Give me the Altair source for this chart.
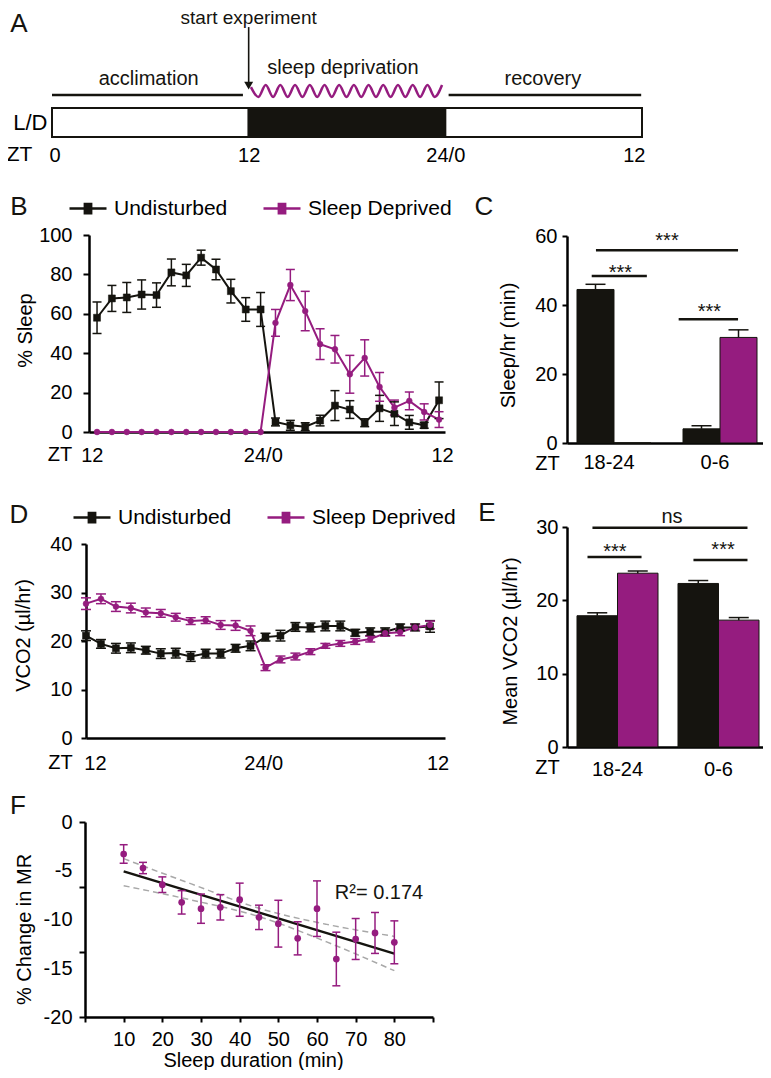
import altair as alt
import pandas as pd

# ---------------- canvas ----------------
W, H = 755, 1062


def P(v):
    """page pixel -> chart pixel (page has an 8px margin)"""
    return v - 8


BLACK = "#15140f"
MAG = "#951c7f"
GREY = "#a8a8a8"
FONT = "Liberation Sans"
SERIES = ["Undisturbed", "Sleep Deprived"]

# ---------------- data ----------------
# Panel A (schematic)
A_start = [0, 12, 24]
A_end = [12, 24, 36]
A_state = ["light", "dark", "light"]
A_row = "L/D"
A_phase_text = ["acclimation", "sleep deprivation", "recovery"]
A_phase_text_zt = [5.9, 17.75, 29.95]
A_phase_text_level = [2.0, 2.38, 2.0]
A_line_start = [0, 24.2]
A_line_end = [11.65, 35.95]
A_line_level = [1.45, 1.45]
A_wave_zt = [12.14, 12.59, 13.04, 13.49, 13.93, 14.38, 14.83, 15.28, 15.73,
             16.18, 16.63, 17.07, 17.52, 17.97, 18.42, 18.87, 19.32, 19.77,
             20.21, 20.66, 21.11, 21.56, 22.01, 22.46, 22.91, 23.35, 23.8]
A_wave_level = [1.72, 1.38, 1.79, 1.38, 1.79, 1.38, 1.79, 1.38, 1.79,
                1.38, 1.79, 1.38, 1.79, 1.38, 1.79, 1.38, 1.79, 1.38,
                1.79, 1.38, 1.79, 1.38, 1.79, 1.38, 1.79, 1.38, 1.79]
A_arrow_zt = [12]
A_arrow_top = [3.79]
A_arrow_head = [1.775]
A_arrow_text = ["start experiment"]
A_arrow_text_level = [4.1]
A_ticks = [0, 12, 24, 36]
A_tick_labels = ["0", "12", "24/0", "12"]

# Panels B & D: hourly time course
ZT_HOURS = [12, 13, 14, 15, 16, 17, 18, 19, 20, 21, 22, 23,
            24, 25, 26, 27, 28, 29, 30, 31, 32, 33, 34, 35]
B_und = [58, 67.8, 68.3, 69.8, 69.5, 81, 79.5, 88.5, 82.5, 71.5, 62.2, 62.2,
         5.1, 3.4, 2.7, 5.8, 13.4, 11.4, 4.7, 12, 9.3, 4.9, 3.4, 16.1]
B_und_err = [8, 6.6, 7.6, 7.4, 6.2, 6.8, 5.6, 3.8, 5.2, 6, 6, 8.6,
             2, 2.5, 2, 2.7, 7.6, 4.5, 2, 6.6, 6, 3.5, 1.5, 9.3]
B_sd = [0, 0, 0, 0, 0, 0, 0, 0, 0, 0, 0, 0,
        55.4, 74.6, 61.4, 44.6, 42, 29.3, 37.6, 22.9, 12.4, 15.8, 10.2, 6.3]
B_sd_err = [0, 0, 0, 0, 0, 0, 0, 0, 0, 0, 0, 0,
            6.8, 7.9, 10, 7.8, 7, 9.6, 9.2, 7.3, 3.8, 4.5, 4.1, 4]
B_ticks = [11.65, 23.15, 35.2]
B_tick_labels = ["12", "24/0", "12"]

D_und = [21.1, 19.4, 18.5, 18.6, 18.1, 17.4, 17.5, 16.8, 17.4, 17.4, 18.5, 19.0,
         20.8, 21.1, 22.9, 22.8, 23.1, 23.1, 21.7, 21.9, 21.9, 22.8, 22.8, 23.0]
D_und_err = [1.0, 0.9, 1.0, 1.0, 0.8, 1.0, 1.0, 1.0, 0.9, 0.9, 0.8, 1.0,
             0.8, 1.1, 0.9, 0.9, 1.0, 1.0, 0.7, 0.8, 0.8, 0.7, 0.7, 1.2]
D_sd = [27.7, 28.7, 27.1, 26.8, 25.9, 25.7, 24.9, 24.1, 24.3, 23.3, 23.2, 22.1,
        14.5, 16.2, 16.8, 17.8, 19.0, 19.5, 19.9, 20.4, 21.6, 21.8, 22.8, 23.3]
D_sd_err = [1.2, 1.0, 1.0, 1.0, 0.9, 0.8, 0.8, 0.7, 0.7, 0.9, 1.0, 1.0,
            0.6, 0.7, 0.7, 0.6, 0.5, 0.6, 0.6, 0.6, 0.6, 0.7, 0.6, 0.8]
D_ticks = [12.6, 23.85, 35.5]
D_tick_labels = ["12", "24/0", "12"]

# Panels C & E: bars
GROUPS = ["18-24", "0-6"]
C_und = [44.5, 4.1]
C_und_err = [1.5, 0.9]
C_sd = [0, 30.6]
C_sd_err = [0, 2.2]
C_sig_x1 = [-0.17, -0.21, 0.61]
C_sig_x2 = [1.17, 0.31, 1.17]
C_sig_y = [55.9, 48.4, 35.9]
C_sig_text = ["***", "***", "***"]
C_sig_text_x = [0.5, 0.06, 0.9]
C_sig_text_y = [56.9, 47.6, 36.1]

E_und = [17.9, 22.3]
E_und_err = [0.4, 0.4]
E_sd = [23.7, 17.3]
E_sd_err = [0.3, 0.35]
E_sig_x1 = [-0.248, -0.297, 0.752]
E_sig_x2 = [1.287, 0.238, 1.287]
E_sig_y = [29.9, 25.9, 25.5]
E_sig_text = ["ns", "***", "***"]
E_sig_text_x = [0.54, -0.025, 1.045]
E_sig_text_y = [30.5, 25.8, 26.0]

# Panel F
F_sleep = [10, 15, 20, 25, 30, 35, 40, 45, 50, 55, 60, 65, 70, 75, 80]
F_change = [-3.28, -4.72, -6.43, -8.24, -8.89, -8.75, -7.97, -9.78, -10.43,
            -11.93, -8.89, -14.05, -12.0, -11.38, -12.34]
F_err = [0.95, 0.58, 0.8, 1.2, 1.5, 1.3, 1.7, 1.25, 2.4, 1.7, 2.85, 2.75, 2.1, 2.1, 2.2]
F_fit_x = [10, 80]
F_fit_y = [-5.06, -13.5]
F_ci_x = [10, 27.5, 45, 62.5, 80]
F_ci_upper = [-3.76, -6.35, -8.85, -10.5, -11.73]
F_ci_lower = [-6.53, -8.0, -9.7, -12.3, -15.25]
F_r2_text = ["R\u00b2= 0.174"]
F_r2_x = [64.6]
F_r2_y = [-7.28]
F_ytick_labels = [0, -5, -10, -15, -20]
F_ytick_marks = [0, -6.667, -13.333, -20]
F_xticks = [10, 20, 30, 40, 50, 60, 70, 80]

PANEL_LETTERS = ["A", "B", "C", "D", "E", "F"]


# ---------------- helpers ----------------
def lin(d0, d1, r0, r1):
    return alt.Scale(domain=[d0, d1], range=[r0, r1], nice=False, zero=False)


def lexpr(vals, labels):
    e = "''"
    for v, l in zip(reversed(vals), reversed(labels)):
        e = f"abs(datum.value - ({v})) < 0.001 ? '{l}' : {e}"
    return e


def yaxis(x_page, values, tick, pad, title, tx_page, ty_page, **kw):
    return alt.Axis(orient="left", offset=-P(x_page), values=values,
                    tickSize=tick, labelPadding=pad, title=title,
                    titleX=tx_page - x_page, titleY=P(ty_page), titleAngle=270,
                    titleAlign="center", titleBaseline="middle", **kw)


def xaxis(y_page, title, tx_page, ty_page, **kw):
    return alt.Axis(orient="bottom", offset=P(y_page) - H, title=title,
                    titleX=P(tx_page), titleY=ty_page - y_page, titleAngle=0,
                    titleAlign="center", titleBaseline="middle", **kw)


cS = alt.Scale(domain=SERIES, range=[BLACK, MAG])
# line through a (stroke-filled) square marker
SYMBOL = ("M-1,0H1M-0.17,-0.25H0.17V0.25H-0.17Z"
          "M-0.07,-0.25V0.25M0,-0.25V0.25M0.07,-0.25V0.25")


def legend(x_page, yc_page):
    return alt.Legend(orient="none", legendX=P(x_page), legendY=P(yc_page) - 18.5,
                      direction="horizontal", title=None, symbolType=SYMBOL,
                      symbolSize=1369, symbolStrokeWidth=2.5, labelFont=FONT,
                      labelFontSize=21, labelColor="black", labelOffset=6,
                      columnPadding=30, labelLimit=400)


def series_df(und, und_err, sd, sd_err, xs):
    n = len(xs)
    return pd.DataFrame({"zt": list(xs) + list(xs),
                         "series": [SERIES[0]] * n + [SERIES[1]] * n,
                         "value": und + sd, "err": und_err + sd_err})


def line_panel(df, xs, ys, xax, yax, leg, msize, cap):
    base = alt.Chart(df)
    line = base.mark_line(strokeWidth=2).encode(
        x=alt.X("zt:Q", scale=xs, axis=xax),
        y=alt.Y("value:Q", scale=ys, axis=yax),
        color=alt.Color("series:N", scale=cS, legend=leg))
    err = base.transform_filter("datum.err > 0").transform_calculate(
        lo="datum.value - datum.err", hi="datum.value + datum.err")
    rules = err.mark_rule(strokeWidth=1.5).encode(
        x=alt.X("zt:Q", scale=xs, axis=None),
        y=alt.Y("lo:Q", scale=ys, axis=None), y2="hi:Q",
        color=alt.Color("series:N", scale=cS, legend=None))
    caps = err.transform_fold(["lo", "hi"], as_=["end", "v"]).mark_point(
        shape="stroke", size=cap, strokeWidth=1.5, opacity=1).encode(
        x=alt.X("zt:Q", scale=xs, axis=None),
        y=alt.Y("v:Q", scale=ys, axis=None),
        color=alt.Color("series:N", scale=cS, legend=None))
    pts = base.mark_point(filled=True, opacity=1, strokeWidth=0.5).encode(
        x=alt.X("zt:Q", scale=xs, axis=None),
        y=alt.Y("value:Q", scale=ys, axis=None),
        shape=alt.Shape("series:N", scale=alt.Scale(domain=SERIES, range=["square", "circle"]), legend=None),
        size=alt.Size("series:O", scale=alt.Scale(domain=SERIES, range=msize), legend=None),
        fill=alt.Fill("series:N", scale=cS, legend=None),
        stroke=alt.Stroke("series:N", scale=cS, legend=None))
    return [line, rules, caps, pts]


def bar_panel(df, xband, ys, xax, yax, sig_df, xsig, cap):
    base = alt.Chart(df)
    bars = base.mark_bar(stroke=BLACK, strokeWidth=1).encode(
        x=alt.X("zt:N", scale=xband, axis=xax, sort=GROUPS),
        xOffset=alt.XOffset("series:N", scale=alt.Scale(domain=SERIES)),
        y=alt.Y("value:Q", scale=ys, axis=yax),
        fill=alt.Fill("series:N", scale=cS, legend=None))
    err = base.transform_filter("datum.err > 0").transform_calculate(
        hi="datum.value + datum.err")
    rules = err.mark_rule(strokeWidth=1.5, color=BLACK).encode(
        x=alt.X("zt:N", scale=xband, axis=None, sort=GROUPS),
        xOffset=alt.XOffset("series:N", scale=alt.Scale(domain=SERIES)),
        y=alt.Y("value:Q", scale=ys, axis=None), y2="hi:Q")
    caps = err.mark_point(shape="stroke", size=cap, strokeWidth=1.5, opacity=1,
                          color=BLACK).encode(
        x=alt.X("zt:N", scale=xband, axis=None, sort=GROUPS),
        xOffset=alt.XOffset("series:N", scale=alt.Scale(domain=SERIES)),
        y=alt.Y("hi:Q", scale=ys, axis=None))
    sbase = alt.Chart(sig_df)
    slines = sbase.mark_rule(strokeWidth=2.5, color=BLACK).encode(
        x=alt.X("x1:Q", scale=xsig, axis=None), x2="x2:Q",
        y=alt.Y("y:Q", scale=ys, axis=None))
    stext = sbase.mark_text(font=FONT, fontSize=20, baseline="alphabetic",
                            align="center", color=BLACK).encode(
        x=alt.X("tx:Q", scale=xsig, axis=None),
        y=alt.Y("ty:Q", scale=ys, axis=None), text="t:N")
    return [bars, rules, caps, slines, stext]


layers = []

# ---------------- Panel A ----------------
xA = lin(0, 36, P(52), P(642))
yA = lin(0, 1, P(137), P(108))
dfA = pd.DataFrame({"start": A_start, "end": A_end, "state": A_state, "row": [A_row] * 3})
layers.append(alt.Chart(dfA).mark_rect(stroke=BLACK, strokeWidth=2).encode(
    x=alt.X("start:Q", scale=xA, axis=xaxis(
        137, "ZT", 19, 154, values=A_ticks, labelExpr=lexpr(A_ticks, A_tick_labels),
        ticks=False, tickSize=0, domain=False, labelPadding=8, labelFlush=True,
        labelFlushOffset=3, titleFontSize=21)),
    x2="end:Q",
    y=alt.Y("row:N", scale=alt.Scale(domain=[A_row], range=[P(108), P(137)],
                                      paddingInner=0, paddingOuter=0),
            axis=alt.Axis(orient="left", offset=-P(52), ticks=False, tickSize=0,
                          domain=False, labelPadding=5, labelFontSize=22, title=None)),
    fill=alt.Fill("state:N", scale=alt.Scale(domain=["light", "dark"], range=["white", BLACK]),
                  legend=None)))
dfAl = pd.DataFrame({"s": A_line_start, "e": A_line_end, "lv": A_line_level})
layers.append(alt.Chart(dfAl).mark_rule(strokeWidth=2.5, color=BLACK).encode(
    x=alt.X("s:Q", scale=xA, axis=None), x2="e:Q",
    y=alt.Y("lv:Q", scale=yA, axis=None)))
dfAw = pd.DataFrame({"zt": A_wave_zt, "lv": A_wave_level})
layers.append(alt.Chart(dfAw).mark_line(strokeWidth=2.5, color=MAG, interpolate="monotone").encode(
    x=alt.X("zt:Q", scale=xA, axis=None), y=alt.Y("lv:Q", scale=yA, axis=None)))
dfAa = pd.DataFrame({"zt": A_arrow_zt, "top": A_arrow_top, "head": A_arrow_head,
                     "t": A_arrow_text, "tl": A_arrow_text_level})
layers.append(alt.Chart(dfAa).mark_rule(strokeWidth=1.6, color=BLACK).encode(
    x=alt.X("zt:Q", scale=xA, axis=None), y=alt.Y("head:Q", scale=yA, axis=None), y2="top:Q"))
layers.append(alt.Chart(dfAa).mark_point(shape="triangle-down", filled=True, size=80,
                                          opacity=1, color=BLACK).encode(
    x=alt.X("zt:Q", scale=xA, axis=None), y=alt.Y("head:Q", scale=yA, axis=None)))
layers.append(alt.Chart(dfAa).mark_text(font=FONT, fontSize=19, color=BLACK, baseline="middle").encode(
    x=alt.X("zt:Q", scale=xA, axis=None), y=alt.Y("tl:Q", scale=yA, axis=None), text="t:N"))
dfAt = pd.DataFrame({"t": A_phase_text, "zt": A_phase_text_zt, "lv": A_phase_text_level})
layers.append(alt.Chart(dfAt).mark_text(font=FONT, fontSize=20, color=BLACK, baseline="middle").encode(
    x=alt.X("zt:Q", scale=xA, axis=None), y=alt.Y("lv:Q", scale=yA, axis=None), text="t:N"))

# ---------------- Panel B ----------------
xB = lin(11.46, 35.4, P(89), P(445))
yB = lin(0, 100, P(432), P(235))
dfB = series_df(B_und, B_und_err, B_sd, B_sd_err, ZT_HOURS)
layers += line_panel(
    dfB, xB, yB,
    xaxis(432, "ZT", 59.5, 454, values=B_ticks, labelExpr=lexpr(B_ticks, B_tick_labels),
          ticks=False, tickSize=0, labelPadding=13, labelFlush=False),
    yaxis(89, [0, 20, 40, 60, 80, 100], 6, 11, "% Sleep", 25, 330),
    legend(68, 207), [49, 34], 81)

# ---------------- Panel C ----------------
xC = alt.Scale(domain=GROUPS, range=[P(567), P(767)], paddingInner=0.302, paddingOuter=0.0943)
yC = lin(0, 60, P(443), P(236))
xCs = lin(-0.443, 1.443, P(567), P(767))
dfC = series_df(C_und, C_und_err, C_sd, C_sd_err, GROUPS)
sigC = pd.DataFrame({"x1": C_sig_x1, "x2": C_sig_x2, "y": C_sig_y, "t": C_sig_text,
                     "tx": C_sig_text_x, "ty": C_sig_text_y})
layers += bar_panel(
    dfC, xC, yC,
    xaxis(443, "ZT", 547, 463, ticks=False, tickSize=0, labelPadding=9, labelOffset=-5,
          labelAngle=0),
    yaxis(567, [0, 20, 40, 60], 5, 5, "Sleep/hr (min)", 508, 345),
    sigC, xCs, 400)

# ---------------- Panel D ----------------
xD = lin(12, 36, P(86), P(445))
yD = lin(0, 40, P(738), P(544))
dfD = series_df(D_und, D_und_err, D_sd, D_sd_err, ZT_HOURS)
layers += line_panel(
    dfD, xD, yD,
    xaxis(738, "ZT", 60, 762, values=D_ticks, labelExpr=lexpr(D_ticks, D_tick_labels),
          ticks=False, tickSize=0, labelPadding=15, labelFlush=False),
    yaxis(86, [0, 10, 20, 30, 40], 5, 9, "VCO2 (\u00b5l/hr)", 23, 635),
    legend(72, 516), [49, 34], 100)

# ---------------- Panel E ----------------
xE = alt.Scale(domain=GROUPS, range=[P(567), P(769)], paddingInner=0.198, paddingOuter=0.099)
yE = lin(0, 30, P(747), P(527))
xEs = lin(-0.5, 1.5, P(567), P(769))
dfE = series_df(E_und, E_und_err, E_sd, E_sd_err, GROUPS)
sigE = pd.DataFrame({"x1": E_sig_x1, "x2": E_sig_x2, "y": E_sig_y, "t": E_sig_text,
                     "tx": E_sig_text_x, "ty": E_sig_text_y})
layers += bar_panel(
    dfE, xE, yE,
    xaxis(747, "ZT", 547, 767, ticks=False, tickSize=0, labelPadding=12, labelAngle=0),
    yaxis(567, [0, 10, 20, 30], 5, 4, "Mean VCO2 (\u00b5l/hr)", 510, 641),
    sigE, xEs, 400)

# ---------------- Panel F ----------------
xF = lin(0, 90, P(85), P(433))
yF = lin(-20, 0, P(1017), P(822))
dfF = pd.DataFrame({"x": F_sleep, "y": F_change, "err": F_err})
dfCI = pd.DataFrame({"x": F_ci_x * 2, "bound": ["upper"] * len(F_ci_x) + ["lower"] * len(F_ci_x),
                     "y": F_ci_upper + F_ci_lower})
layers.append(alt.Chart(dfCI).mark_line(strokeWidth=1.5, color=GREY, strokeDash=[6, 4],
                                         interpolate="monotone").encode(
    x=alt.X("x:Q", scale=xF, axis=xaxis(1017, "Sleep duration (min)", 253, 1060,
                                        values=F_xticks + [0, 90],
                                        labelExpr="datum.value > 0 && datum.value < 90 ? datum.value + '' : ''",
                                        tickSize=5, labelPadding=7, labelFlush=False)),
    y=alt.Y("y:Q", scale=yF, axis=yaxis(85, F_ytick_labels, 0, 13, "% Change in MR", 24, 929,
                                        ticks=False, labelExpr="datum.value + ''")),
    detail="bound:N"))
dfFit = pd.DataFrame({"x": F_fit_x, "y": F_fit_y})
layers.append(alt.Chart(dfFit).mark_line(strokeWidth=2.5, color=BLACK).encode(
    x=alt.X("x:Q", scale=xF, axis=None),
    y=alt.Y("y:Q", scale=yF, axis=alt.Axis(orient="left", offset=-P(85), values=F_ytick_marks,
                                           labels=False, domain=False, tickSize=6, title=None))))
errF = alt.Chart(dfF).transform_calculate(lo="datum.y - datum.err", hi="datum.y + datum.err")
layers.append(errF.mark_rule(strokeWidth=1.5, color=MAG).encode(
    x=alt.X("x:Q", scale=xF, axis=None), y=alt.Y("lo:Q", scale=yF, axis=None), y2="hi:Q"))
layers.append(errF.transform_fold(["lo", "hi"], as_=["end", "v"]).mark_point(
    shape="stroke", size=64, strokeWidth=1.5, opacity=1, color=MAG).encode(
    x=alt.X("x:Q", scale=xF, axis=None), y=alt.Y("v:Q", scale=yF, axis=None)))
layers.append(alt.Chart(dfF).mark_point(filled=True, size=45, opacity=1, color=MAG, shape="circle").encode(
    x=alt.X("x:Q", scale=xF, axis=None), y=alt.Y("y:Q", scale=yF, axis=None)))
dfR2 = pd.DataFrame({"t": F_r2_text, "x": F_r2_x, "y": F_r2_y})
layers.append(alt.Chart(dfR2).mark_text(font=FONT, fontSize=20, color=BLACK, align="left",
                                         baseline="middle").encode(
    x=alt.X("x:Q", scale=xF, axis=None), y=alt.Y("y:Q", scale=yF, axis=None), text="t:N"))

# ---------------- panel letters ----------------
letter_pos = {"A": (19, 24), "B": (19, 207), "C": (484, 207),
              "D": (19, 515), "E": (487, 513), "F": (18, 806)}
for letter in PANEL_LETTERS:
    px, py = letter_pos[letter]
    layers.append(alt.Chart(pd.DataFrame({"t": [letter]})).mark_text(
        font=FONT, fontSize=26, color=BLACK, align="center", baseline="middle").encode(
        x=alt.value(P(px)), y=alt.value(P(py)), text="t:N"))

chart = alt.layer(*layers).properties(
    width=W, height=H, padding=0, autosize=alt.AutoSizeParams(type="none")
).resolve_scale(
    x="independent", y="independent", color="independent", fill="independent",
    stroke="independent", shape="independent", size="independent", xOffset="independent"
).resolve_axis(x="independent", y="independent").resolve_legend(
    color="independent", fill="independent", stroke="independent"
).configure_view(stroke=None).configure_axis(
    labelFont=FONT, titleFont=FONT, labelColor="black", titleColor="black",
    labelFontSize=20, titleFontSize=20, titleFontWeight="normal",
    domainColor="black", tickColor="black", domainWidth=2.5, tickWidth=2,
    grid=False, labelOverlap=False, labelFlush=False
)

chart.save("out.html", embed_options={"renderer": "svg", "actions": False})
